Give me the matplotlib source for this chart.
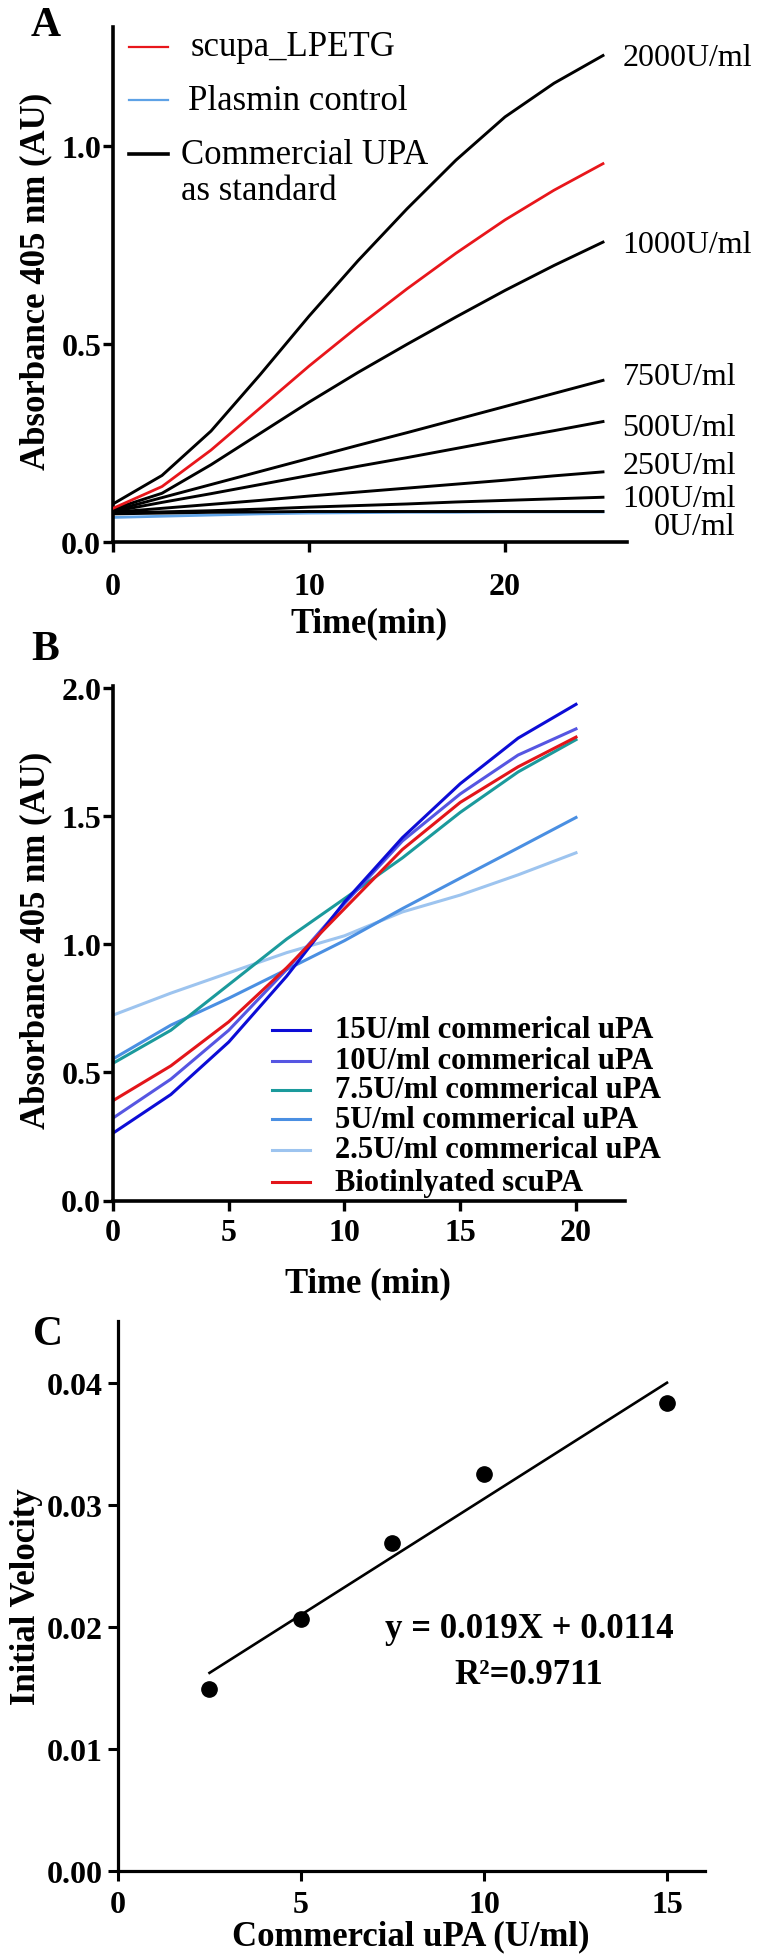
import numpy as np
import matplotlib
matplotlib.use("Agg")
import matplotlib.pyplot as plt
from matplotlib.lines import Line2D
from matplotlib.ticker import FormatStrFormatter

plt.rcParams['font.family'] = ['Liberation Serif', 'DejaVu Serif']
plt.rcParams['font.weight'] = 'bold'

W, H = 762, 1958

# ---- panel A: kinetic curves, commercial UPA standards ----
time_a = [0, 2.5, 5, 7.5, 10, 12.5, 15, 17.5, 20, 22.5, 25]
upa_2000 = [0.096, 0.168, 0.280, 0.422, 0.570, 0.710, 0.841, 0.964, 1.073, 1.158, 1.228]
upa_1000 = [0.083, 0.123, 0.195, 0.274, 0.353, 0.428, 0.499, 0.568, 0.635, 0.698, 0.757]
upa_750 = [0.079, 0.112, 0.145, 0.178, 0.211, 0.244, 0.276, 0.309, 0.342, 0.375, 0.408]
upa_500 = [0.077, 0.100, 0.122, 0.145, 0.168, 0.191, 0.213, 0.236, 0.259, 0.281, 0.304]
upa_250 = [0.075, 0.085, 0.095, 0.105, 0.116, 0.126, 0.136, 0.146, 0.156, 0.167, 0.177]
upa_100 = [0.073, 0.076, 0.079, 0.083, 0.088, 0.092, 0.096, 0.101, 0.105, 0.109, 0.113]
upa_0 = [0.071, 0.073, 0.075, 0.076, 0.077, 0.077, 0.077, 0.077, 0.077, 0.077, 0.077]
scupa_lpetg = [0.085, 0.140, 0.232, 0.338, 0.444, 0.544, 0.639, 0.729, 0.813, 0.888, 0.955]
plasmin_ctrl = [0.062, 0.065, 0.068, 0.071, 0.073, 0.074, 0.075, 0.075, 0.076, 0.076, 0.076]
std_curves = [upa_2000, upa_1000, upa_750, upa_500, upa_250, upa_100, upa_0]
std_labels = ["2000U/ml", "1000U/ml", "750U/ml", "500U/ml", "250U/ml", "100U/ml", "0U/ml"]
std_label_y = [1.222, 0.75, 0.417, 0.288, 0.194, 0.109, 0.040]
legend_a = ["scupa_LPETG", "Plasmin control", "Commercial UPA", "as standard"]

# ---- panel B: kinetic curves, low concentrations ----
time_b = [0, 2.5, 5, 7.5, 10, 12.5, 15, 17.5, 20]
b_15 = [0.263, 0.414, 0.619, 0.876, 1.166, 1.417, 1.628, 1.806, 1.938]
b_10 = [0.322, 0.474, 0.665, 0.902, 1.160, 1.404, 1.588, 1.740, 1.842]
b_7_5 = [0.536, 0.665, 0.843, 1.021, 1.179, 1.338, 1.516, 1.674, 1.800]
b_5 = [0.553, 0.685, 0.790, 0.902, 1.015, 1.140, 1.259, 1.377, 1.496]
b_2_5 = [0.724, 0.810, 0.889, 0.968, 1.034, 1.127, 1.193, 1.272, 1.358]
b_biotin = [0.390, 0.526, 0.698, 0.909, 1.140, 1.371, 1.555, 1.694, 1.810]
labels_b = ["15U/ml commerical uPA", "10U/ml commerical uPA", "7.5U/ml commerical uPA",
            "5U/ml commerical uPA", "2.5U/ml commerical uPA", "Biotinlyated scuPA"]
colors_b = ["#0c0cd6", "#5656e2", "#1b9a9c", "#4a8fe2", "#9dc4ef", "#e3151a"]

# ---- panel C: initial velocity standard curve ----
conc_c = [2.5, 5, 7.5, 10, 15]
velocity_c = [0.01496, 0.0207, 0.02693, 0.03259, 0.03839]
eq_text = "y = 0.019X + 0.0114"
r2_text = "R²=0.9711"


def fx(x):
    return x / W


def fy(y):
    return 1 - y / H


def style(ax, ypad=1, xpad=5):
    ax.spines['top'].set_visible(False)
    ax.spines['right'].set_visible(False)
    ax.spines['left'].set_linewidth(2.6)
    ax.spines['bottom'].set_linewidth(2.6)
    ax.tick_params(width=2.4, length=7.5, labelsize=23, direction='out')
    ax.tick_params(axis='y', pad=ypad)
    ax.tick_params(axis='x', pad=xpad)


fig = plt.figure(figsize=(W / 100, H / 100), dpi=100)

# panel A
axA = fig.add_axes([fx(113), fy(543), 513.5 / W, 515 / H])
axA.plot(time_a, plasmin_ctrl, color="#5ea2e6", lw=2.0, zorder=1)
for curve in std_curves:
    axA.plot(time_a, curve, color="black", lw=2.1, zorder=2)
axA.plot(time_a, scupa_lpetg, color="#e8161b", lw=2.0, zorder=3)
axA.set_xlim(0, 26.2)
axA.set_ylim(0, 1.30)
axA.set_xticks([0, 10, 20])
axA.set_yticks([0, 0.5, 1.0])
axA.yaxis.set_major_formatter(FormatStrFormatter('%.1f'))
style(axA, xpad=14)
for lab, yv in zip(std_labels, std_label_y):
    xv = 27.6 if lab == "0U/ml" else 26.0
    axA.text(xv, yv, lab, fontsize=23, fontweight='normal', ha='left', va='center', clip_on=False)

# legend A drawn by hand (handle sits on the first text line)
leg_rows = [(48, "#e8161b", 1.6, 191), (101, "#5ea2e6", 1.6, 188), (155, "black", 2.6, 181)]
for (yy, col, lw, tx), lab in zip(leg_rows, legend_a[:3]):
    fig.add_artist(Line2D([fx(129), fx(168)], [fy(yy), fy(yy)], color=col, lw=lw))
    fig.text(fx(tx), fy(yy), lab, fontsize=25, fontweight='normal', ha='left', va='center')
fig.text(fx(181), fy(191), legend_a[3], fontsize=25, fontweight='normal', ha='left', va='center')

fig.text(fx(46), fy(26), "A", fontsize=30, ha='center', va='center')
fig.text(fx(36), fy(281), "Absorbance 405 nm (AU)", fontsize=25, rotation=90, ha='center', va='center')
fig.text(fx(369), fy(624), "Time(min)", fontsize=25, ha='center', va='center')

# panel B
axB = fig.add_axes([fx(113), fy(1201.5), 511.6 / W, 514.6 / H])
series_b = [b_2_5, b_5, b_7_5, b_10, b_15, b_biotin]
colors_order = [colors_b[4], colors_b[3], colors_b[2], colors_b[1], colors_b[0], colors_b[5]]
for ys, col in zip(series_b, colors_order):
    axB.plot(time_b, ys, color=col, lw=2.2)
axB.set_xlim(0, 22.1)
axB.set_ylim(0, 2.01)
axB.set_xticks([0, 5, 10, 15, 20])
axB.set_yticks([0, 0.5, 1.0, 1.5, 2.0])
axB.yaxis.set_major_formatter(FormatStrFormatter('%.1f'))
style(axB)

leg_y = [1031, 1062, 1091, 1120, 1151, 1183]
for yy, lab, col in zip(leg_y, labels_b, colors_b):
    fig.add_artist(Line2D([fx(272), fx(310)], [fy(yy), fy(yy)], color=col, lw=2.2))
    fig.text(fx(335), fy(yy), lab, fontsize=22, ha='left', va='center')

fig.text(fx(45), fy(650), "B", fontsize=30, ha='center', va='center')
fig.text(fx(36), fy(940), "Absorbance 405 nm (AU)", fontsize=25, rotation=90, ha='center', va='center')
fig.text(fx(368), fy(1284), "Time (min)", fontsize=25, ha='center', va='center')

# panel C
axC = fig.add_axes([fx(118), fy(1872), 587.4 / W, 550 / H])
slope, intercept = np.polyfit(conc_c, velocity_c, 1)
xfit = np.array([conc_c[0], conc_c[-1]])
axC.plot(xfit, slope * xfit + intercept, color="black", lw=1.9)
axC.plot(conc_c, velocity_c, 'o', color="black", ms=11)
axC.set_xlim(0, 16.05)
axC.set_ylim(0, 0.0451)
axC.set_xticks([0, 5, 10, 15])
axC.set_yticks([0, 0.01, 0.02, 0.03, 0.04])
axC.yaxis.set_major_formatter(FormatStrFormatter('%.2f'))
style(axC, ypad=4, xpad=7)
axC.tick_params(width=2.2, length=7)
axC.spines['left'].set_linewidth(2.3)
axC.spines['bottom'].set_linewidth(2.3)
axC.text(11.24, 0.0199, eq_text, fontsize=25, ha='center', va='center')
axC.text(11.22, 0.0161, r2_text, fontsize=25, ha='center', va='center')

fig.text(fx(48), fy(1335), "C", fontsize=30, ha='center', va='center')
fig.text(fx(27), fy(1597), "Initial Velocity", fontsize=25, rotation=90, ha='center', va='center')
fig.text(fx(411), fy(1937), "Commercial uPA (U/ml)", fontsize=25, ha='center', va='center')

fig.savefig("out.png", dpi=100)
